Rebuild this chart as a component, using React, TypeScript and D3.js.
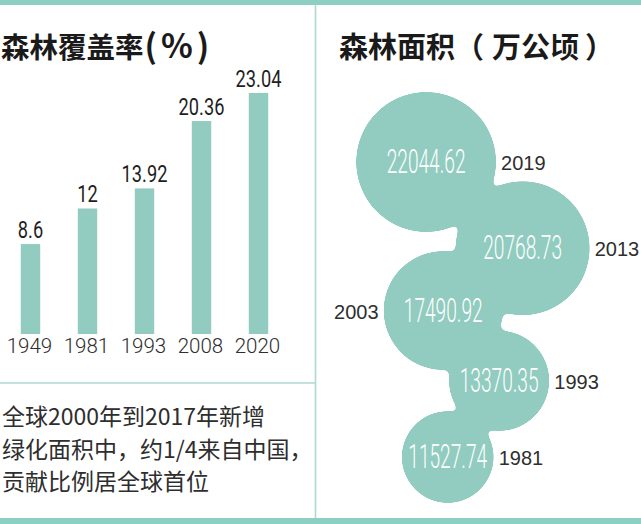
import React from 'react';
import * as d3 from 'd3';

// ---- data ----
const coverYears = ['1949', '1981', '1993', '2008', '2020'];
const coverValues = [8.6, 12, 13.92, 20.36, 23.04];
const coverLabels = ['8.6', '12', '13.92', '20.36', '23.04'];

const areaYears = ['2019', '2013', '2003', '1993', '1981'];
const areaValues = [22044.62, 20768.73, 17490.92, 13370.35, 11527.74];
const areaLabels = ['22044.62', '20768.73', '17490.92', '13370.35', '11527.74'];

const noteLines = ['全球2000年到2017年新增', '绿化面积中，约1/4来自中国，', '贡献比例居全球首位'];

// ---- layout / style ----
const W = 641;
const H = 524;
const TEAL = '#92ccc0';
const BAND = '#8dcfc3';
const LINE = '#acd9d2';
const TXT = '#2e2e2e';
const THIN = "Roboto, 'Liberation Sans', sans-serif";
const SANS = "'Liberation Sans', Arial, sans-serif";
const CJK = "'Noto Sans CJK SC', 'Noto Sans', sans-serif";
const yearLabelSide = [1, 1, -1, 1, 1];
const bubbleShift = [0.67, 0.74, 0.5, 0.52, 0.55];
const bubbleNudgeY = [0, 12, 0, -4, -2];

function Narrow({ x, y, size, sx, fill, weight, children }: any) {
  return (
    <text
      transform={`translate(${x},${y}) scale(${sx},1)`}
      textAnchor="middle"
      fontFamily={THIN}
      fontWeight={weight}
      fontSize={size}
      fill={fill}
    >
      {children}
    </text>
  );
}

export default function App() {
  // bar chart scales
  const x = d3.scaleBand<string>().domain(coverYears).range([2, 287]).paddingInner(0.66).paddingOuter(0.33);
  const y = d3.scaleLinear().domain([0, 25]).range([334, 334 - 261.5]);

  // bubble scales
  const r = d3.scaleLinear().domain([d3.min(areaValues)!, d3.max(areaValues)!]).range([46, 70]);
  const by = d3.scalePoint<string>().domain(areaYears).range([162, 459]);
  const midX = 473;
  const bubbles = areaValues.map((v, i) => {
    const rad = r(v);
    const side = i % 2 === 0 ? -1 : 1;
    return {
      v,
      rad,
      cx: midX + side * rad * bubbleShift[i],
      cy: by(areaYears[i])! + bubbleNudgeY[i],
      i,
    };
  });

  return (
    <svg
      width={W}
      height={H}
      viewBox={`0 0 ${W} ${H}`}
      style={{ position: 'absolute', left: 0, top: 0, background: '#fff' }}
    >
      <defs>
        <filter id="goo" x="-20%" y="-20%" width="140%" height="140%" colorInterpolationFilters="sRGB">
          <feGaussianBlur in="SourceGraphic" stdDeviation="3.5" result="blur" />
          <feColorMatrix
            in="blur"
            mode="matrix"
            values="1 0 0 0 0  0 1 0 0 0  0 0 1 0 0  0 0 0 18 -8.5"
            result="goo"
          />
        </filter>
      </defs>
      <rect x={0} y={0} width={W} height={H} fill="#fff" />

      {/* frame */}
      <rect x={0} y={0} width={W} height={5} fill={BAND} />
      <rect x={0} y={518} width={W} height={6} fill={BAND} />
      <line x1={315.5} x2={315.5} y1={5} y2={518} stroke={LINE} strokeWidth={1.6} />
      <line x1={0} x2={315} y1={383} y2={383} stroke={LINE} strokeWidth={1.6} />

      {/* left title */}
      <text x={1} y={58} fontFamily={CJK} fontWeight={700} fontSize={28.5} fill="#1a1a1a">
        森林覆盖率
        <tspan dx={1} fontSize={33} letterSpacing={4}>(%)</tspan>
      </text>

      {/* bars */}
      {coverValues.map((v, i) => {
        const bx = x(coverYears[i])!;
        return (
          <g key={coverYears[i]}>
            <rect x={bx} y={y(v)} width={x.bandwidth()} height={y(0) - y(v)} fill={TEAL} />
            <Narrow x={bx + x.bandwidth() / 2} y={y(v) - 6} size={24} sx={0.76} weight={400} fill="#1f1f1f">
              {coverLabels[i]}
            </Narrow>
            <text
              x={bx + x.bandwidth() / 2 - 1}
              y={353}
              textAnchor="middle"
              fontFamily={THIN}
              fontWeight={300}
              fontSize={20.5}
              fill={TXT}
            >
              {coverYears[i]}
            </text>
          </g>
        );
      })}

      {/* note */}
      {noteLines.map((t, i) => (
        <text key={i} x={2} y={425 + i * 32.5} fontFamily={CJK} fontSize={23} fill={TXT}>
          {t}
        </text>
      ))}

      {/* right title */}
      <text x={339} y={58} fontFamily={CJK} fontWeight={700} fontSize={29} fill="#1a1a1a">
        森林面积（
        <tspan dx={8}>万公顷</tspan>
        <tspan dx={6}>）</tspan>
      </text>

      {/* bubbles */}
      <g filter="url(#goo)">
        {bubbles.map((b) => (
          <circle key={b.i} cx={b.cx} cy={b.cy} r={b.rad} fill={TEAL} />
        ))}
      </g>
      {bubbles.map((b) => (
        <g key={'t' + b.i}>
          <Narrow x={b.cx} y={b.cy + 11} size={33} sx={0.58} weight={300} fill="#ffffff">
            {areaLabels[b.i]}
          </Narrow>
          <text
            x={yearLabelSide[b.i] > 0 ? b.cx + b.rad + 5 : b.cx - b.rad - 5}
            y={b.cy + 8}
            textAnchor={yearLabelSide[b.i] > 0 ? 'start' : 'end'}
            fontFamily={SANS}
            fontSize={20}
            fill={TXT}
          >
            {areaYears[b.i]}
          </text>
        </g>
      ))}
    </svg>
  );
}
